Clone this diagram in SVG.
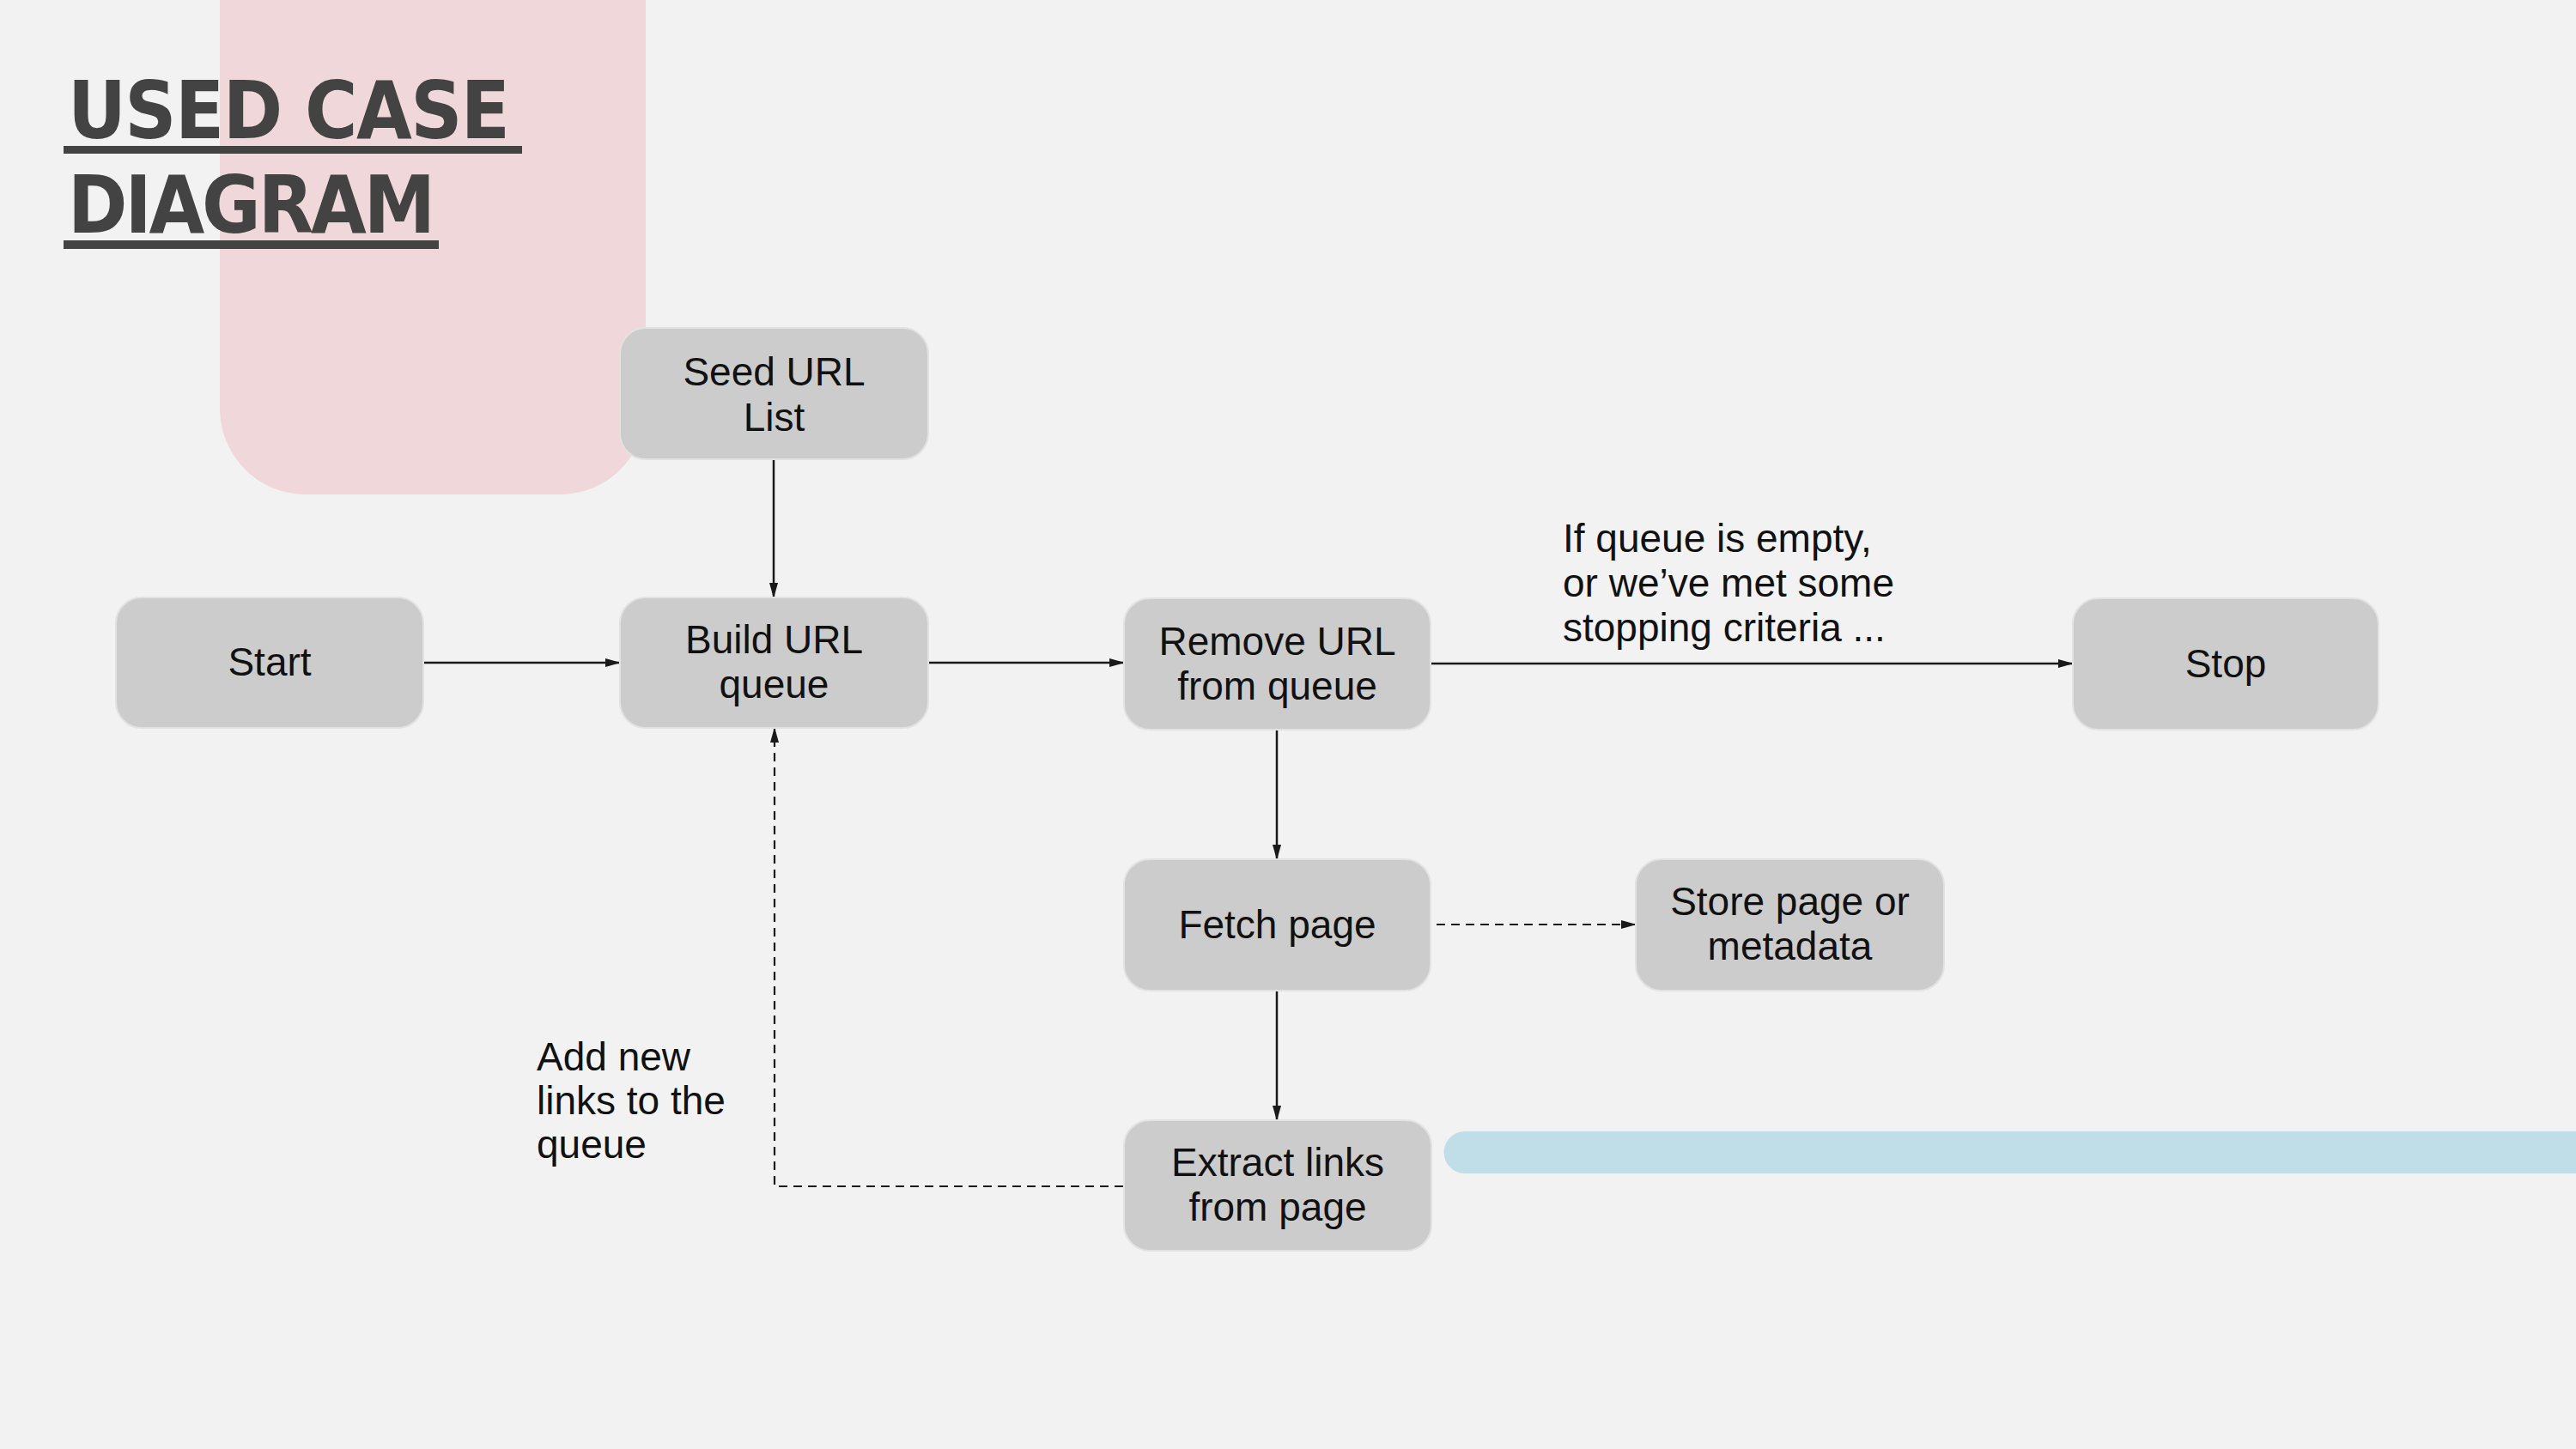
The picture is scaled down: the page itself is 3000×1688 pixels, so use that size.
<svg xmlns="http://www.w3.org/2000/svg" width="3000" height="1688" viewBox="0 0 3000 1688">
<style>
.box{fill:#cccccc;stroke:#e2e2e2;stroke-width:2}
.t{font-family:"Liberation Sans",Arial,sans-serif;font-size:46px;fill:#111111;text-anchor:middle}
.lbl{font-family:"Liberation Sans",Arial,sans-serif;font-size:46px;fill:#111111}
.title{font-family:"DejaVu Sans Condensed","DejaVu Sans",sans-serif;font-weight:bold;font-stretch:condensed;font-size:93px;fill:#434343}
.c{fill:none;stroke:#1a1a1a;stroke-width:2.5;marker-end:url(#arr)}
.d{stroke-dasharray:10 7;stroke-width:2.2}
</style>
<defs>
<marker id="arr" markerUnits="userSpaceOnUse" markerWidth="18" markerHeight="10" refX="17" refY="5" orient="auto">
<path d="M0,0 L18,5 L0,10 z" fill="#1a1a1a"/>
</marker>
</defs>
<rect width="3000" height="1688" fill="#f2f2f2"/>
<g id="decor">
<path d="M256,-10 H752 V476 A100,100 0 0 1 652,576 H356 A100,100 0 0 1 256,476 Z" fill="#f0d7da"/>
<path d="M1706,1318 H3000 V1367 H1706 A24.5,24.5 0 0 1 1706,1318 Z" fill="#c0dee7"/>
</g>
<g id="title">
<text class="title" x="79" y="161" textLength="515" lengthAdjust="spacing">USED CASE</text>
<rect x="74" y="170" width="534" height="9" fill="#434343"/>
<text class="title" x="79" y="271" textLength="428" lengthAdjust="spacing">DIAGRAM</text>
<rect x="74" y="280" width="437" height="10" fill="#434343"/>
</g>
<g id="connectors">
<path class="c" d="M901,535 V696"/>
<path class="c" d="M493,772 H722"/>
<path class="c" d="M1081,772 H1309"/>
<path class="c" d="M1666,773 H2414"/>
<path class="c" d="M1487,850 V1001"/>
<path class="c" d="M1487,1154 V1305"/>
<path class="c d" d="M1673,1077 H1905"/>
<path class="c d" d="M1308,1382 H902 V848"/>
</g>
<g id="seed">
<rect class="box" x="722" y="382" width="359" height="153" rx="30"/>
<text class="t" x="901.5" y="449">Seed URL</text>
<text class="t" x="901.5" y="502">List</text>
</g>
<g id="start">
<rect class="box" x="135" y="696" width="358" height="152" rx="30"/>
<text class="t" x="314" y="787">Start</text>
</g>
<g id="build">
<rect class="box" x="722" y="696" width="359" height="152" rx="30"/>
<text class="t" x="901.5" y="761">Build URL</text>
<text class="t" x="901.5" y="813">queue</text>
</g>
<g id="remove">
<rect class="box" x="1309" y="697" width="357" height="153" rx="30"/>
<text class="t" x="1487.5" y="763">Remove URL</text>
<text class="t" x="1487.5" y="815">from queue</text>
</g>
<g id="stop">
<rect class="box" x="2414" y="697" width="356" height="153" rx="30"/>
<text class="t" x="2592" y="789">Stop</text>
</g>
<g id="fetch">
<rect class="box" x="1309" y="1001" width="357" height="153" rx="30"/>
<text class="t" x="1487.5" y="1093">Fetch page</text>
</g>
<g id="store">
<rect class="box" x="1905" y="1001" width="359" height="153" rx="30"/>
<text class="t" x="2084.5" y="1066">Store page or</text>
<text class="t" x="2084.5" y="1118">metadata</text>
</g>
<g id="extract">
<rect class="box" x="1309" y="1305" width="358" height="152" rx="30"/>
<text class="t" x="1488" y="1370">Extract links</text>
<text class="t" x="1488" y="1422">from page</text>
</g>
<g id="labels">
<text class="lbl" x="1820" y="643">If queue is empty,</text>
<text class="lbl" x="1820" y="695">or we’ve met some</text>
<text class="lbl" x="1820" y="747">stopping criteria ...</text>
<text class="lbl" x="625" y="1247">Add new</text>
<text class="lbl" x="625" y="1298">links to the</text>
<text class="lbl" x="625" y="1349">queue</text>
</g>
</svg>
